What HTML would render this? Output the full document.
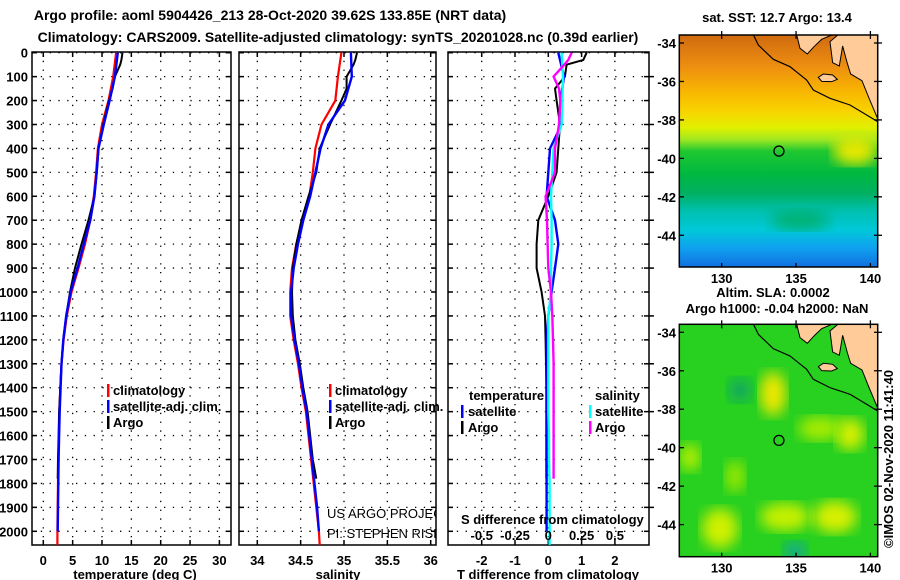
<!DOCTYPE html>
<html><head><meta charset="utf-8"><style>
html,body{margin:0;padding:0;background:#fff;}
svg{display:block;font-family:"Liberation Sans",sans-serif;}
.b{font-weight:bold;font-size:13px;}
</style></head><body>
<svg id="fig" width="900" height="580" viewBox="0 0 900 580" xmlns="http://www.w3.org/2000/svg">
<defs>
<clipPath id="cp1"><rect x="32" y="52" width="199" height="493"/></clipPath>
<clipPath id="cp2"><rect x="239" y="52" width="197" height="493"/></clipPath>
<clipPath id="cp3"><rect x="448" y="52" width="201" height="493"/></clipPath>
<clipPath id="cm1"><rect x="679" y="35" width="199" height="232"/></clipPath>
<clipPath id="cm2"><rect x="679" y="324" width="199" height="233"/></clipPath>
<linearGradient id="sst" x1="0" y1="0" x2="0" y2="1">
<stop offset="0" stop-color="#d06a10"/><stop offset="0.14" stop-color="#ee9010"/>
<stop offset="0.25" stop-color="#f8b800"/><stop offset="0.33" stop-color="#f8d400"/>
<stop offset="0.40" stop-color="#e0f000"/><stop offset="0.45" stop-color="#a0e820"/>
<stop offset="0.50" stop-color="#20c830"/><stop offset="0.60" stop-color="#00b840"/>
<stop offset="0.68" stop-color="#00b060"/><stop offset="0.76" stop-color="#00c0b0"/>
<stop offset="0.84" stop-color="#00c8d8"/><stop offset="0.92" stop-color="#10a0f0"/>
<stop offset="1" stop-color="#1070e0"/></linearGradient>
<filter id="blur"><feGaussianBlur stdDeviation="7"/></filter>
</defs>
<g class="b">
<text x="270" y="20" text-anchor="middle" font-size="14">Argo profile: aoml 5904426_213 28-Oct-2020 39.62S 133.85E (NRT data)</text>
<text x="338" y="42" text-anchor="middle" font-size="14">Climatology: CARS2009. Satellite-adjusted climatology: synTS_20201028.nc (0.39d earlier)</text>
</g>
<g id="panels"></g>
<g id="maps"></g>
</svg>
<script>
// ---- data ----
const depthsArgo = [0,30,50,100,150,200,300,400,500,600,700,800,900,1000,1100,1200,1300,1400,1500,1600,1700,1780];
const depthsClim = [0,100,200,300,400,500,600,700,800,900,1000,1100,1200,1300,1400,1500,1600,1700,1800,1900,2000,2057];
const depthsSat = [0,100,200,300,400,500,600,700,800,900,1000,1100,1200,1300,1400,1500,1600,1700,1800,1900,2000];
const tempArgo = [13.5,13.3,13.1,12.2,11.8,11.2,10.2,9.4,9.1,8.7,7.7,6.5,5.4,4.55,3.9,3.4,3.1,2.9,2.7,2.6,2.5,2.45];
const tempClim = [12.4,11.9,11.1,10.0,9.3,9.0,8.6,8.0,7.1,6.0,4.8,4.0,3.45,3.1,2.9,2.75,2.65,2.55,2.5,2.45,2.4,2.4];
const tempSat = [12.7,12.2,11.3,10.3,9.4,9.1,8.7,8.0,6.9,5.85,4.65,3.9,3.4,3.1,2.95,2.8,2.7,2.6,2.55,2.5,2.45];
const salArgo = [35.15,35.13,35.11,35.03,35.03,34.97,34.84,34.72,34.68,34.59,34.51,34.45,34.41,34.40,34.41,34.44,34.49,34.53,34.58,34.61,34.64,34.68];
const salClim = [34.97,34.93,34.90,34.74,34.67,34.64,34.60,34.53,34.45,34.40,34.38,34.38,34.42,34.47,34.51,34.56,34.59,34.62,34.65,34.68,34.71,34.72];
const salSat = [35.08,35.09,35.01,34.82,34.73,34.67,34.61,34.53,34.47,34.42,34.39,34.39,34.43,34.48,34.52,34.57,34.60,34.63,34.66,34.69,34.71];
const tDiffArgo = [1.15,1.05,0.55,0.5,0.2,0.25,0.35,0.3,0.25,0.0,-0.3,-0.35,-0.35,-0.2,-0.1,-0.08,-0.07,-0.06,-0.06,-0.06,-0.06,-0.06];
const tDiffSat = [0.3,0.47,0.37,0.4,0.05,0.0,-0.05,0.2,0.3,0.2,0.1,0.0,-0.05,-0.05,-0.05,-0.05,-0.05,-0.05,-0.05,-0.05,-0.05];
const sDiffArgo = [0.175,0.15,0.12,0.04,0.08,0.09,0.08,0.05,0.05,-0.02,-0.01,-0.005,0.0,0.02,0.03,0.035,0.04,0.04,0.04,0.04,0.04,0.04];
const sDiffSat = [0.1,0.11,0.105,0.1,0.04,0.03,0.02,0.025,0.025,0.02,0.02,0.0,0.0,0.0,0.0,0.0,0.005,0.005,0.01,0.01,0.01,0.01];
const depthTicks = [0,100,200,300,400,500,600,700,800,900,1000,1100,1200,1300,1400,1500,1600,1700,1800,1900,2000];
const tempTicks = [0,5,10,15,20,25,30];
const salTicks = [34,34.5,35,35.5,36];
const tDiffTicks = [-2,-1,0,1,2];
const sDiffTicks = [-0.5,-0.25,0,0.25,0.5];
const latTicks = [-34,-36,-38,-40,-42,-44];
const lonTicks = [130,135,140];
const floatLon = 133.85, floatLat = -39.62;

const NS='http://www.w3.org/2000/svg';
function mk(tag, attrs, parent, txt){const e=document.createElementNS(NS,tag);for(const k in attrs)e.setAttribute(k,attrs[k]);if(txt!==undefined)e.textContent=txt;parent.appendChild(e);return e;}
const P=document.getElementById('panels');
const yD = d => 52.7 + d*0.2393;
const xT = t => 43.3 + t*5.87;
const xS = s => 257.3 + (s-34)*86.7;
const xTD = t => 548.3 + t*33.3;
const xSD = s => 548.3 + s*133.2;

function panel(x0,x1,xf,ticks,fmt,clip,name){
  const g=mk('g',{},P);
  
  
  depthTicks.forEach(d=>{const y=yD(d);
    mk('line',{x1:x0,x2:x1,y1:y,y2:y,stroke:'#000','stroke-width':1.3,'stroke-dasharray':'1.3 7.5'},g);
    mk('line',{x1:x0,x2:x0+5,y1:y,y2:y,stroke:'#000','stroke-width':1.5},g);
    mk('line',{x1:x1-5,x2:x1,y1:y,y2:y,stroke:'#000','stroke-width':1.5},g);});
  ticks.forEach(v=>{const x=xf(v);
    mk('line',{x1:x,x2:x,y1:52,y2:545,stroke:'#000','stroke-width':1.3,'stroke-dasharray':'1.3 7.5'},g);
    mk('line',{x1:x,x2:x,y1:52,y2:57,stroke:'#000','stroke-width':1.5},g);
    mk('line',{x1:x,x2:x,y1:540,y2:545,stroke:'#000','stroke-width':1.5},g);
    if(fmt){const t=mk('text',{x:x,y:565,'text-anchor':'middle','class':'b'},g,fmt(v));
      
      }});
  mk('rect',{x:x0,y:52,width:x1-x0,height:493,fill:'none',stroke:'#000','stroke-width':1.5},g);
  return g;
}
function line(g,xs,ds,xf,color,w,clip,name){
  const pts=xs.map((v,i)=>xf(v).toFixed(1)+','+yD(ds[i]).toFixed(1)).join(' ');
  const p=mk('polyline',{points:pts,fill:'none',stroke:color,'stroke-width':w,'clip-path':'url(#'+clip+')','stroke-linejoin':'miter'},g);
  
  
}
// y labels
depthTicks.forEach(d=>{const t=mk('text',{x:28,y:yD(d)+5,'text-anchor':'end','class':'b'},P,String(d));
  
  });

const g1=panel(32,231,xT,tempTicks,v=>String(v),'cp1','temperature-panel');
line(g1,tempClim,depthsClim,xT,'#f00',2.2,'cp1','temp-climatology-line');
line(g1,tempArgo,depthsArgo,xT,'#000',2,'cp1','temp-argo-line');
line(g1,tempSat,depthsSat,xT,'#00f',2.4,'cp1','temp-satellite-line');
const g2=panel(239,436,xS,salTicks,v=>String(v),'cp2','salinity-panel');
line(g2,salClim,depthsClim,xS,'#f00',2.2,'cp2','sal-climatology-line');
line(g2,salArgo,depthsArgo,xS,'#000',2,'cp2','sal-argo-line');
line(g2,salSat,depthsSat,xS,'#00f',2.4,'cp2','sal-satellite-line');
const g3=panel(448,649,xTD,tDiffTicks,v=>String(v),'cp3','difference-panel');
line(g3,tDiffArgo,depthsArgo,xTD,'#000',2,'cp3','tdiff-argo-line');
line(g3,tDiffSat,depthsSat,xTD,'#00f',2.4,'cp3','tdiff-satellite-line');
line(g3,sDiffSat,depthsClim,xSD,'#0ff',2.4,'cp3','sdiff-satellite-line');
line(g3,sDiffArgo,depthsArgo,xSD,'#f0f',2.4,'cp3','sdiff-argo-line');
depthTicks.forEach(d=>{if(d%200===100)mk('line',{x1:649,x2:654,y1:yD(d),y2:yD(d),stroke:'#000','stroke-width':1.5},g3);});
sDiffTicks.forEach(v=>{const t=mk('text',{x:xSD(v),y:540,'text-anchor':'middle','class':'b'},g3,String(v));
  
  });

function txt(x,y,s,name,cls,extra){const t=mk('text',Object.assign({x:x,y:y,'class':cls||'b'},extra||{}),P,s);
  
  return t;}
function bar(x,y,c){mk('rect',{x:x,y:y-11,width:2.5,height:13,fill:c},P);}
txt(135,579,'temperature (deg C)','temperature-axis-title',null,{'text-anchor':'middle'});
txt(338,579,'salinity','salinity-axis-title',null,{'text-anchor':'middle'});
txt(548,579,'T difference from climatology','tdiff-axis-title',null,{'text-anchor':'middle'});
txt(461,524,'S difference from climatology','sdiff-axis-title');
// legends
[[395,'#f00','climatology'],[411,'#00f','satellite-adj. clim.'],[427,'#000','Argo']].forEach(r=>{
  bar(107,r[0],r[1]);txt(113,r[0],r[2],'temp-legend-entry');
  bar(329,r[0],r[1]);txt(335,r[0],r[2],'sal-legend-entry');});
txt(469,400,'temperature','diff-legend-temp-header');txt(595,400,'salinity','diff-legend-sal-header');
bar(461,416,'#00f');txt(468,416,'satellite','diff-legend-temp-sat');
bar(461,432,'#000');txt(468,432,'Argo','diff-legend-temp-argo');
bar(589,416,'#0ff');txt(595,416,'satellite','diff-legend-sal-sat');
bar(589,432,'#f0f');txt(595,432,'Argo','diff-legend-sal-argo');
const cl=mk('g',{'clip-path':'url(#cp2)'},P);
mk('text',{x:327,y:518,'font-size':13},cl,'US ARGO PROJECT');
mk('text',{x:327,y:538,'font-size':13},cl,'PI: STEPHEN RISER');

// ---- maps ----
const M=document.getElementById('maps');
const lonX = l => 721.7 + (l-130)*14.87;
const land = "440,104 450,145 472,162 492,140 515,118 548,104";
const land2 = "565,104 683,104 683,356 656,292 636,242 602,222 592,190 578,138 568,198 548,188 540,125";
const isl = "505,232 520,222 548,225 562,238 545,245 515,244";
const coast = "310,104 325,135 370,178 420,200 470,240 490,270 540,295 600,315 650,345 683,365";
function map(top,bottom,offY,kind,name,title){
  const latY = la => 43+offY + (-34-la)*19.23;
  const g=mk('g',{},M);
  
  
  const c=mk('g',{'clip-path':'url(#'+(kind==='sst'?'cm1':'cm2')+')'},g);
  if(kind==='sst'){
    mk('rect',{x:679,y:top,width:199,height:bottom-top,fill:'url(#sst)'},c);
    mk('ellipse',{cx:855,cy:latY(-39.6),rx:22,ry:14,fill:'#e8e800',filter:'url(#blur)'},c);
    mk('ellipse',{cx:800,cy:latY(-43.2),rx:30,ry:10,fill:'#00b070',filter:'url(#blur)'},c);
  } else {
    mk('rect',{x:679,y:top,width:199,height:bottom-top,fill:'#28d020'},c);
    [[773,-37.2,13,22,'#f0e800'],[850,-39.3,14,16,'#d8f000'],[820,-39.0,22,12,'#a8ec00'],[720,-44.2,18,20,'#d0f000'],[785,-43.6,25,14,'#c8f000'],[835,-43.6,22,16,'#d8f000'],[740,-37,12,12,'#10a860'],[795,-45.4,12,10,'#10a890'],[690,-40.5,10,14,'#b8f000'],[735,-41.5,10,16,'#98e800']].forEach(b=>{
      mk('ellipse',{cx:b[0],cy:latY(b[1]),rx:b[2],ry:b[3],fill:b[4],filter:'url(#blur)'},c);});
  }
  const s=mk('g',{transform:'translate(650,'+offY+') scale(0.3333)'},c);
  mk('polygon',{points:land,fill:'#ffcc99',stroke:'#000','stroke-width':3},s);
  mk('polygon',{points:land2,fill:'#ffcc99',stroke:'#000','stroke-width':3},s);
  mk('polygon',{points:isl,fill:'#ffcc99',stroke:'#000','stroke-width':3},s);
  mk('polyline',{points:coast,fill:'none',stroke:'#000','stroke-width':3.5},s);
  const circ=mk('circle',{cx:lonX(floatLon),cy:latY(floatLat),r:5,fill:'none',stroke:'#000','stroke-width':1.3},g);
  
  
  mk('rect',{x:679.3,y:top,width:198.4,height:bottom-top,fill:'none',stroke:'#000','stroke-width':1.5},g);
  latTicks.forEach(la=>{const y=latY(la);
    mk('line',{x1:679,x2:684,y1:y,y2:y,stroke:'#000','stroke-width':1.3},g);
    mk('line',{x1:874,x2:882,y1:y,y2:y,stroke:'#000','stroke-width':1.3},g);
    const t=mk('text',{x:676,y:y+5,'text-anchor':'end','class':'b'},g,String(la));
    
    });
  lonTicks.forEach(lo=>{const x=lonX(lo);
    mk('line',{x1:x,x2:x,y1:top-4,y2:top+4,stroke:'#000','stroke-width':1.3},g);
    mk('line',{x1:x,x2:x,y1:bottom-4,y2:bottom,stroke:'#000','stroke-width':1.3},g);
    const t=mk('text',{x:x,y:bottom+16,'text-anchor':'middle','class':'b'},g,String(lo));
    
    });
}
map(35,267,0,'sst','sst-map');
map(324.3,556.7,289.3,'sla','sla-map');
txt(777,22,'sat. SST: 12.7 Argo: 13.4','sst-map-title',null,{'text-anchor':'middle'});
txt(773,297,'Altim. SLA: 0.0002','sla-title',null,{'text-anchor':'middle'});
txt(777,313,'Argo h1000: -0.04 h2000: NaN','height-title',null,{'text-anchor':'middle'});
txt(0,0,'©IMOS 02-Nov-2020 11:41:40','imos-stamp','',{'font-size':13,transform:'translate(893,548) rotate(-90)'});
</script>
</body></html>
